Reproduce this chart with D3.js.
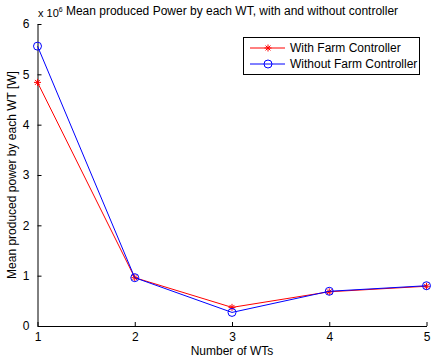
<!DOCTYPE html>
<html>
<head>
<meta charset="utf-8">
<script src="https://cdn.jsdelivr.net/npm/d3@7"></script>
<style>
  html, body { margin: 0; padding: 0; background: #fff; }
  svg text { font-family: "Liberation Sans", Arial, sans-serif; }
</style>
</head>
<body>
<svg id="chart" width="432" height="357"></svg>
<script>
// Number of wind turbines
const turbines = [1, 2, 3, 4, 5];
// Mean produced power per turbine [W], in units of 1e6
const withController = [4.84, 0.96, 0.37, 0.68, 0.79];
const withoutController = [5.56, 0.96, 0.27, 0.69, 0.80];
const xTicks = [1, 2, 3, 4, 5];
const yTicks = [0, 1, 2, 3, 4, 5, 6];
const seriesNames = ["With Farm Controller", "Without Farm Controller"];

const svg = d3.select("#chart");
const m = { left: 37.5, right: 426.5, top: 24, bottom: 326 };
const fs = 12;

const x = d3.scaleLinear().domain([1, 5]).range([m.left, m.right]);
const y = d3.scaleLinear().domain([0, 6]).range([m.bottom, m.top]);

// Axes with inward ticks
const xAxis = d3.axisBottom(x).tickValues(xTicks).tickFormat(d3.format("d"))
  .tickSizeInner(-4).tickSizeOuter(0).tickPadding(6);
const yAxis = d3.axisLeft(y).tickValues(yTicks).tickFormat(d3.format("d"))
  .tickSizeInner(-4).tickSizeOuter(0).tickPadding(8);

const gx = svg.append("g").attr("transform", `translate(0,${m.bottom})`).call(xAxis);
const gy = svg.append("g").attr("transform", `translate(${m.left},0)`).call(yAxis);
[gx, gy].forEach(g => {
  g.selectAll("path.domain").attr("stroke", "#000");
  g.selectAll(".tick line").attr("stroke", "#000");
  g.selectAll("text").attr("font-size", fs).attr("fill", "#000")
    .attr("font-family", "Liberation Sans, Arial, sans-serif");
});
gx.selectAll("text").attr("dy", "0.71em");

// Lines
const line = d3.line().x((d, i) => x(turbines[i])).y(d => y(d));

function star(g, cx, cy, color) {
  const r = 3.5;
  const p = d3.path();
  p.moveTo(cx - r, cy); p.lineTo(cx + r, cy);
  p.moveTo(cx, cy - r); p.lineTo(cx, cy + r);
  const d = r * 0.7;
  p.moveTo(cx - d, cy - d); p.lineTo(cx + d, cy + d);
  p.moveTo(cx - d, cy + d); p.lineTo(cx + d, cy - d);
  g.append("path").attr("d", p.toString()).attr("stroke", color).attr("stroke-width", 1).attr("fill", "none");
}
function circle(g, cx, cy, color) {
  g.append("circle").attr("cx", cx).attr("cy", cy).attr("r", 4)
    .attr("fill", "none").attr("stroke", color).attr("stroke-width", 1);
}

const plot = svg.append("g");
plot.append("path").datum(withController).attr("d", line)
  .attr("fill", "none").attr("stroke", "#ff0000").attr("stroke-width", 1);
withController.forEach((v, i) => star(plot, x(turbines[i]), y(v), "#ff0000"));

plot.append("path").datum(withoutController).attr("d", line)
  .attr("fill", "none").attr("stroke", "#0000ff").attr("stroke-width", 1);
withoutController.forEach((v, i) => circle(plot, x(turbines[i]), y(v), "#0000ff"));

// Exponent and title
const expo = svg.append("text").attr("x", 38).attr("y", 17).attr("font-size", 11);
expo.append("tspan").text("x 10");
expo.append("tspan").attr("font-size", 7).attr("dy", -5).text("6");
svg.append("text").attr("x", 232).attr("y", 15).attr("text-anchor", "middle")
  .attr("font-size", fs).text("Mean produced Power by each WT, with and without controller");

// Axis labels
svg.append("text").attr("x", 232).attr("y", 355).attr("text-anchor", "middle")
  .attr("font-size", fs).text("Number of WTs");
svg.append("text").attr("transform", `translate(16,${(m.top + m.bottom) / 2}) rotate(-90)`)
  .attr("text-anchor", "middle").attr("font-size", fs).text("Mean produced power by each WT [W]");

// Legend
const lg = svg.append("g");
lg.append("rect").attr("x", 243.5).attr("y", 37.5).attr("width", 176).attr("height", 37)
  .attr("fill", "#fff").attr("stroke", "#000").attr("stroke-width", 1);
const rows = [
  { name: seriesNames[0], color: "#ff0000", mark: star, yy: 48 },
  { name: seriesNames[1], color: "#0000ff", mark: circle, yy: 64 }
];
rows.forEach(r => {
  lg.append("line").attr("x1", 250).attr("x2", 285).attr("y1", r.yy).attr("y2", r.yy)
    .attr("stroke", r.color).attr("stroke-width", 1);
  r.mark(lg, 268, r.yy, r.color);
  lg.append("text").attr("x", 290).attr("y", r.yy + 4).attr("font-size", fs).text(r.name);
});
</script>
</body>
</html>
